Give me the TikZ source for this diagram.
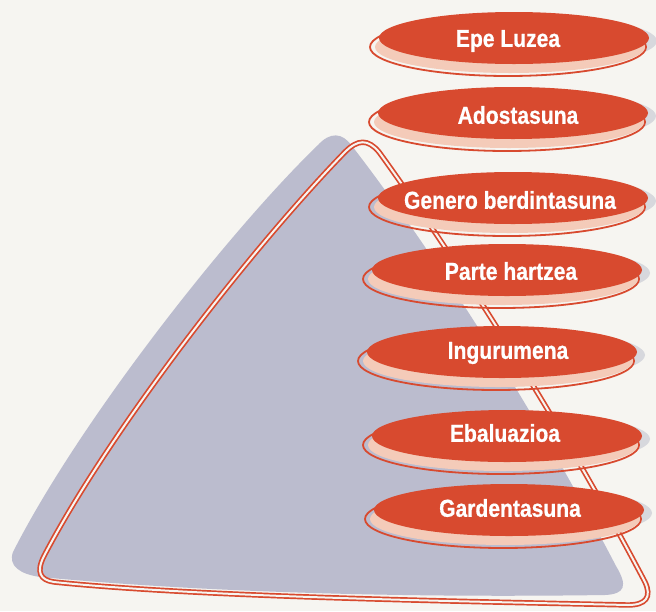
\documentclass[tikz,border=0pt]{standalone}
\usepackage{fontspec}
\usetikzlibrary{shapes.geometric}
\newfontfamily\lab{Liberation Sans}[FakeStretch=0.86,FakeBold=0.6]
\definecolor{bgc}{HTML}{F6F5F1}
\definecolor{tric}{HTML}{BBBCCE}
\definecolor{redc}{HTML}{D84A2F}
\definecolor{pinkc}{HTML}{F4CBB9}
\definecolor{shadc}{HTML}{D7D8DD}
\tikzset{
  pillbase/.style={ellipse, inner sep=0pt, minimum width=270pt, minimum height=52pt},
  pillgray/.style={pillbase, fill=shadc},
  pillpink/.style={pillbase, fill=pinkc},
  pillbody/.style={pillbase, fill=redc},
  pillout/.style={pillbase, draw=redc, line width=1.8pt, minimum width=276pt, minimum height=58pt},
  pilltext/.style={text=white, font=\lab\bfseries\fontsize{24.5}{28}\selectfont, inner sep=0pt},
  dbl/.style={draw=redc, line width=1.7pt, double=bgc, double distance=2pt},
}
\newcommand\pill[6]{%
  \node[pillgray] (#1g) at (#2+8,#3+3) {};
  \node[pillout] (#1o) at (#2-6,#3+9) {};
  \node[pillpink] (#1p) at (#2-4,#3+9) {};
  \node[pillbody] (#1) at (#2,#3) {};
  \node[pilltext] (#1t) at (#4,#5) {#6};
}
\begin{document}
\begin{tikzpicture}[x=1pt,y=-1pt]
\fill[bgc] (0,0) rectangle (656,611);
\useasboundingbox (0,0) rectangle (656,611);
% grey triangle
\fill[tric] (40,577)
  .. controls (20,574) and (8,566) .. (13,552)
  .. controls (80,420) and (230,230) .. (318,145)
  .. controls (330,132) and (342,132) .. (352,146)
  .. controls (440,260) and (540,420) .. (616,566)
  .. controls (628,586) and (625,594) .. (605,595)
  .. controls (400,598) and (200,592) .. (40,577) -- cycle;
% red double outline
\draw[dbl] (54,582)
  .. controls (40,580) and (36,572) .. (44,556)
  .. controls (110,430) and (250,250) .. (345,152)
  .. controls (358,139) and (368,139) .. (379,152)
  .. controls (450,250) and (560,420) .. (645,582)
  .. controls (652,597) and (646,605) .. (628,605)
  .. controls (450,601) and (200,597) .. (54,582) -- cycle;
% pills
\pill{p1}{514}{38}{508}{41}{Epe Luzea}
\pill{p2}{513}{113}{518}{115}{Adostasuna}
\pill{p3}{513}{198}{510}{200}{Genero berdintasuna}
\pill{p4}{507}{270}{511}{271}{Parte hartzea}
\pill{p5}{502}{352}{508}{353}{Ingurumena}
\pill{p6}{507}{436}{505}{433}{Ebaluazioa}
\pill{p7}{509}{510}{510}{508}{Gardentasuna}
\end{tikzpicture}
\end{document}
